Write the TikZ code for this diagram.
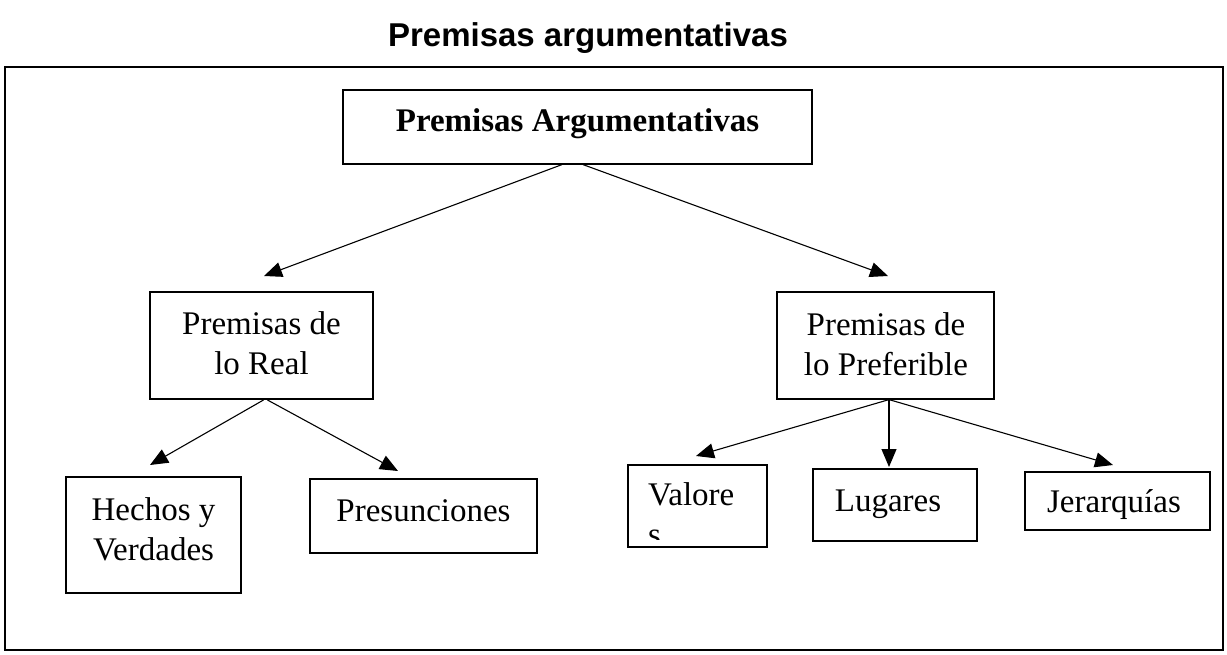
\documentclass[tikz,border=0pt]{standalone}
\usepackage{fontspec}
\setmainfont{Liberation Serif}
\newfontfamily\titlefont{Liberation Sans}
\usetikzlibrary{arrows.meta}

\begin{document}
\begin{tikzpicture}[x=1pt, y=-1pt, >={Triangle[length=18pt, width=15pt]},
  box/.style={draw, line width=1.2pt, inner sep=0pt},
  txt/.style={align=center, inner sep=0pt, anchor=base,
              font=\fontsize{33}{40}\selectfont},
  conn/.style={->, line width=1.1pt}]
  \useasboundingbox (0,0) rectangle (1227,655);
  \node[anchor=base, inner sep=0pt, font=\titlefont\bfseries\fontsize{33}{40}\selectfont]
    (title) at (588,47) {Premisas argumentativas};
  \draw[line width=2.5pt] (5,67) rectangle (1223,650);

  % boxes
  \node[box, minimum width=469pt, minimum height=74pt] (top) at (577.5,127) {};
  \node[box, line width=2pt, minimum width=223pt, minimum height=107pt] (real) at (261.5,345.5) {};
  \node[box, minimum width=217pt, minimum height=107pt] (pref) at (885.5,345.5) {};
  \node[box, minimum width=175pt, minimum height=116pt] (hech) at (153.5,535) {};
  \node[box, minimum width=227pt, minimum height=74pt] (pres) at (423.5,516) {};
  \node[box, minimum width=139pt, minimum height=82pt] (valr) at (697.5,506) {};
  \node[box, minimum width=164pt, minimum height=72pt] (luga) at (895,505) {};
  \node[box, minimum width=185pt, minimum height=58pt] (jera) at (1117.5,501) {};

  % texts (base = last line)
  \node[txt] (top-t) at (577.5,132) {\textbf{Premisas Argumentativas}};
  \node[txt] (real-t) at (261.5,374) {Premisas de\\lo Real};
  \node[txt] (pref-t) at (886,375) {Premisas de\\lo Preferible};
  \node[txt] (hech-t) at (153.5,560) {Hechos y\\Verdades};
  \node[txt] (pres-t) at (423.5,521) {Presunciones};
  \begin{scope}
    \clip (628,465) rectangle (767,539);
    \node[txt, align=left, anchor=base west] (valr-t) at (648,545) {Valore\\s};
  \end{scope}
  \node[txt] (luga-t) at (888,511) {Lugares};
  \node[txt] (jera-t) at (1114,512) {Jerarquías};

  % arrow tips
  \coordinate (realtip) at (264,276);
  \coordinate (preftip) at (888,276);
  \coordinate (hechtip) at (150,465);
  \coordinate (prestip) at (398,471);
  \coordinate (valrtip) at (696,456);
  \coordinate (lugatip) at (889,467);
  \coordinate (jeratip) at (1113,465);

  \draw[conn] ([xshift=-15.5pt]top.south) -- (realtip);
  \draw[conn] ([xshift=5.5pt]top.south) -- (preftip);
  \draw[conn] ([xshift=2pt]real.south) -- (hechtip);
  \draw[conn] ([xshift=6pt]real.south) -- (prestip);
  \draw[conn] ([xshift=3.5pt]pref.south) -- (valrtip);
  \draw[conn] ([xshift=3.5pt]pref.south) -- (lugatip);
  \draw[conn] ([xshift=3.5pt]pref.south) -- (jeratip);
\end{tikzpicture}
\end{document}
